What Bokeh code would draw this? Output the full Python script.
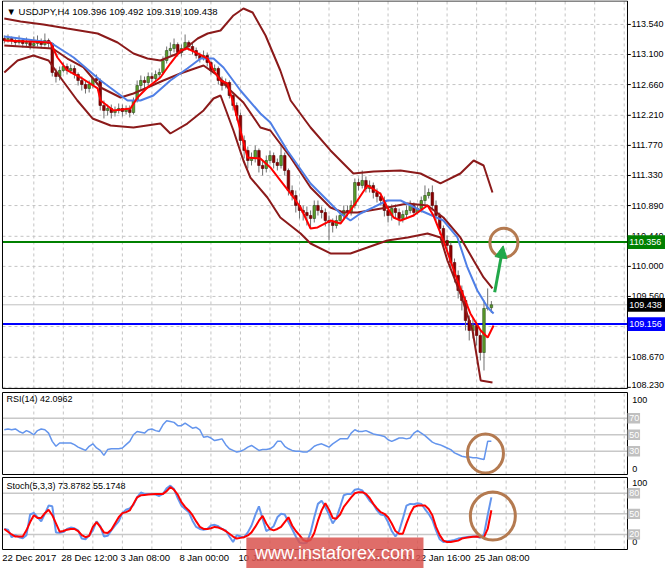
from bokeh.plotting import figure
from bokeh.layouts import column
from bokeh.models import Range1d, Arrow, NormalHead
from bokeh.core.properties import value
from bokeh.embed import file_html
from bokeh.resources import INLINE

# ---------------- data ----------------
chart_title = "\u25BC USDJPY,H4  109.396 109.492 109.319 109.438"
rsi_title = "RSI(14) 42.0962"
stoch_title = "Stoch(5,3,3) 73.8782 55.1748"

opens = [113.334, 113.305, 113.334, 113.305, 113.276, 113.305, 113.261, 113.276, 113.232, 113.261,
         113.276, 113.246, 113.305, 113.261, 112.837, 112.778, 112.866, 112.924, 112.866, 112.895,
         112.807, 112.720, 112.661, 112.603, 112.661, 112.749, 112.720, 112.354, 112.281, 112.310,
         112.251, 112.281, 112.310, 112.266, 112.295, 112.251, 112.427, 112.646, 112.720, 112.690,
         112.778, 112.749, 112.807, 112.837, 113.012, 113.158, 113.188, 113.246, 113.129, 113.188,
         113.276, 113.217, 113.158, 113.085, 113.041, 113.085, 112.983, 112.866, 112.895, 112.720,
         112.646, 112.690, 112.500, 112.354, 112.207, 111.842, 111.696, 111.549, 111.578, 111.696,
         111.476, 111.432, 111.549, 111.622, 111.520, 111.476, 111.622, 111.403, 111.110, 111.037,
         110.891, 110.818, 110.788, 110.744, 110.701, 110.891, 110.818, 110.788, 110.671, 110.642,
         110.598, 110.671, 110.744, 110.818, 110.788, 110.891, 111.227, 111.184, 111.257, 111.140,
         111.184, 111.081, 111.022, 110.964, 110.818, 110.744, 110.847, 110.788, 110.701, 110.759,
         110.818, 110.891, 110.788, 110.847, 110.964, 111.037, 111.081, 110.891, 110.744, 110.554,
         110.379, 110.306, 110.057, 109.867, 109.647, 109.501, 109.208, 109.062, 109.135, 108.989,
         108.740, 109.384, 109.396]
highs = [113.378, 113.393, 113.363, 113.349, 113.378, 113.334, 113.349, 113.305, 113.363, 113.378,
         113.334, 113.407, 113.334, 113.276, 112.895, 112.924, 112.983, 112.968, 112.954, 112.939,
         112.837, 112.778, 112.720, 112.720, 112.778, 112.807, 112.749, 112.427, 112.368, 112.368,
         112.339, 112.383, 112.368, 112.354, 112.354, 112.471, 112.720, 112.793, 112.778, 112.837,
         112.837, 112.866, 112.895, 113.071, 113.217, 113.276, 113.334, 113.276, 113.246, 113.393,
         113.305, 113.276, 113.202, 113.129, 113.158, 113.129, 113.012, 112.954, 112.924, 112.778,
         112.749, 112.720, 112.544, 112.398, 112.251, 111.915, 111.754, 111.666, 111.769, 111.725,
         111.549, 111.622, 111.696, 111.666, 111.578, 111.769, 111.666, 111.432, 111.184, 111.110,
         110.964, 110.891, 110.876, 110.818, 110.964, 110.964, 110.876, 110.847, 110.744, 110.701,
         110.744, 110.818, 110.891, 110.891, 110.964, 111.286, 111.286, 111.403, 111.315, 111.257,
         111.227, 111.140, 111.081, 111.022, 110.891, 110.906, 110.906, 110.847, 110.818, 110.891,
         110.964, 110.935, 110.906, 111.022, 111.184, 111.140, 111.184, 110.964, 110.788, 110.598,
         110.452, 110.350, 110.115, 109.940, 109.720, 109.560, 109.282, 109.237, 109.179, 109.062,
         109.501, 109.677, 109.492]
lows = [113.261, 113.276, 113.246, 113.217, 113.246, 113.202, 113.217, 113.173, 113.188, 113.217,
        113.188, 113.217, 113.202, 112.778, 112.690, 112.720, 112.837, 112.807, 112.822, 112.749,
        112.646, 112.573, 112.529, 112.544, 112.603, 112.661, 112.281, 112.164, 112.207, 112.164,
        112.193, 112.237, 112.193, 112.222, 112.178, 112.222, 112.398, 112.573, 112.603, 112.632,
        112.690, 112.690, 112.749, 112.807, 112.968, 113.085, 113.129, 113.071, 113.071, 113.158,
        113.158, 113.100, 113.041, 112.983, 113.012, 112.924, 112.807, 112.837, 112.661, 112.573,
        112.603, 112.456, 112.281, 112.134, 111.769, 111.578, 111.432, 111.476, 111.520, 111.374,
        111.330, 111.374, 111.505, 111.432, 111.403, 111.432, 111.330, 111.037, 110.964, 110.788,
        110.701, 110.671, 110.598, 110.554, 110.642, 110.744, 110.701, 110.584, 110.379, 110.496,
        110.554, 110.642, 110.701, 110.730, 110.744, 110.847, 111.110, 111.140, 111.081, 111.081,
        110.993, 110.935, 110.891, 110.730, 110.642, 110.671, 110.701, 110.598, 110.642, 110.701,
        110.774, 110.730, 110.759, 110.788, 110.906, 110.993, 110.818, 110.671, 110.467, 110.291,
        110.203, 109.969, 109.764, 109.530, 109.355, 109.062, 108.916, 108.945, 108.843, 108.623,
        108.477, 109.355, 109.319]
closes = [113.305, 113.334, 113.305, 113.276, 113.305, 113.261, 113.276, 113.232, 113.261, 113.276,
          113.246, 113.305, 113.261, 112.837, 112.778, 112.866, 112.924, 112.866, 112.895, 112.807,
          112.720, 112.661, 112.603, 112.661, 112.749, 112.720, 112.354, 112.281, 112.310, 112.251,
          112.281, 112.310, 112.266, 112.295, 112.251, 112.427, 112.646, 112.720, 112.690, 112.778,
          112.749, 112.807, 112.837, 113.012, 113.158, 113.188, 113.246, 113.129, 113.188, 113.276,
          113.217, 113.158, 113.085, 113.041, 113.085, 112.983, 112.866, 112.895, 112.720, 112.646,
          112.690, 112.500, 112.354, 112.207, 111.842, 111.696, 111.549, 111.578, 111.696, 111.476,
          111.432, 111.549, 111.622, 111.520, 111.476, 111.622, 111.403, 111.110, 111.037, 110.891,
          110.818, 110.788, 110.744, 110.701, 110.891, 110.818, 110.788, 110.671, 110.642, 110.598,
          110.671, 110.744, 110.818, 110.788, 110.891, 111.227, 111.184, 111.257, 111.140, 111.184,
          111.081, 111.022, 110.964, 110.818, 110.744, 110.847, 110.788, 110.701, 110.759, 110.818,
          110.891, 110.788, 110.847, 110.964, 111.037, 111.081, 110.891, 110.744, 110.554, 110.379,
          110.306, 110.057, 109.867, 109.647, 109.501, 109.208, 109.062, 109.135, 108.989, 108.740,
          109.384, 109.396, 109.438]

# indicator lines on the price chart, read at points along each line (x in bars)
upper_x = [0, 4.4, 10.6, 17.1, 25.3, 30.7, 35.0, 38.8, 42.3, 47.7, 52.4, 55.1, 58.6, 62.1, 64.8,
           67.3, 70.8, 74.8, 77.6, 83.0, 88.4, 91.9, 94.6, 100.1, 107.4, 112.8, 118.2, 123.6,
           127.2, 129.9, 132.3]
upper_y = [113.627, 113.583, 113.539, 113.480, 113.407, 113.276, 113.115, 113.041, 113.012, 113.129,
           113.334, 113.407, 113.451, 113.671, 113.773, 113.714, 113.378, 112.866, 112.427, 112.032,
           111.696, 111.505, 111.359, 111.388, 111.403, 111.359, 111.213, 111.359, 111.549, 111.476,
           111.081]
middle_x = [0, 13.1, 17.1, 21.5, 26.1, 31.5, 35.0, 38.8, 43.1, 47.7, 52.4, 54.0, 57.8, 61.3, 64.8,
            69.4, 72.1, 77.6, 83.0, 88.4, 91.9, 95.7, 103.8, 109.3, 114.7, 119.0, 123.6, 127.2,
            129.9, 132.3]
middle_y = [113.232, 113.188, 113.041, 112.910, 112.617, 112.471, 112.529, 112.617, 112.720, 112.822,
            112.910, 112.939, 112.793, 112.573, 112.398, 112.032, 111.988, 111.593, 111.154, 110.862,
            110.788, 110.788, 110.862, 110.920, 110.891, 110.715, 110.423, 110.086, 109.838, 109.677]
lower_x = [0, 3.6, 7.9, 12.0, 15.8, 19.8, 23.9, 28.8, 35.0, 42.3, 45.0, 49.6, 54.0, 56.7, 58.6,
           62.1, 64.8, 66.7, 71.3, 74.8, 80.3, 83.0, 88.4, 93.8, 98.4, 103.8, 109.3, 114.7, 118.2,
           120.1, 123.6, 126.9, 129.1, 132.3]
lower_y = [112.837, 113.012, 113.085, 113.012, 112.720, 112.427, 112.164, 112.061, 112.032, 112.090,
           111.944, 112.090, 112.281, 112.456, 112.500, 111.988, 111.549, 111.300, 111.008, 110.715,
           110.481, 110.335, 110.189, 110.189, 110.276, 110.379, 110.423, 110.481, 110.423, 110.086,
           109.603, 109.062, 108.331, 108.301]
slow_x = [0, 12.5, 18.8, 26.1, 33.4, 36.9, 40.4, 45.0, 49.6, 53.2, 56.7, 59.4, 64.0, 69.4, 72.1,
          76.7, 83.0, 91.1, 93.8, 96.5, 100.0, 103.8, 107.4, 112.8, 119.0, 122.8, 125.5, 128.2,
          131.0, 132.6]
slow_y = [113.363, 113.276, 113.056, 112.720, 112.427, 112.427, 112.500, 112.720, 112.895, 113.041,
          113.041, 112.910, 112.573, 112.237, 112.105, 111.696, 111.213, 110.774, 110.671, 110.774,
          110.862, 110.964, 110.964, 110.818, 110.671, 110.423, 109.984, 109.647, 109.398, 109.311]
fast_x = [0, 12.5, 14.4, 17.1, 20.7, 25.3, 26.1, 29.6, 34.2, 36.1, 38.8, 42.3, 45.0, 47.7, 49.6,
          52.4, 55.1, 56.7, 58.6, 60.5, 62.1, 64.0, 65.9, 69.4, 72.1, 74.8, 77.6, 80.3, 83.0, 84.9,
          88.4, 91.1, 93.8, 95.7, 98.4, 101.9, 103.8, 105.5, 107.4, 110.9, 114.7, 116.3, 119.0,
          122.8, 126.3, 129.1, 131.0, 132.6]
fast_y = [113.305, 113.276, 113.056, 112.866, 112.763, 112.603, 112.427, 112.281, 112.310, 112.471,
          112.617, 112.763, 112.968, 113.158, 113.188, 113.115, 113.041, 112.866, 112.720, 112.676,
          112.383, 111.988, 111.593, 111.578, 111.447, 111.257, 111.066, 110.862, 110.554, 110.569,
          110.671, 110.627, 110.818, 110.964, 111.184, 111.066, 110.862, 110.715, 110.671, 110.744,
          110.891, 110.744, 110.379, 109.794, 109.311, 109.062, 108.960, 109.135]

rsi_vals = [56, 57, 56, 57, 54, 52, 55, 53, 50, 55,
            57, 56, 52, 42, 36, 40, 40, 40, 40, 38,
            35, 33, 31, 36, 39, 34, 31, 25, 32, 33,
            33, 33, 34, 38, 42, 50, 54, 53, 52, 56,
            57, 55, 54, 62, 67, 66, 65, 61, 61, 64,
            61, 58, 59, 56, 47, 48, 46, 43, 44, 45,
            38, 33, 31, 29, 30, 32, 35, 37, 34, 31,
            32, 32, 33, 36, 42, 42, 36, 33, 31, 30,
            30, 29, 29, 32, 36, 38, 39, 37, 35, 39,
            42, 45, 45, 45, 52, 56, 54, 54, 55, 53,
            51, 50, 49, 48, 44, 42, 44, 46, 46, 45,
            46, 52, 55, 52, 49, 45, 41, 39, 38, 36,
            34, 32, 28, 26, 24, 23, 23, 22, 22, 21,
            20, 42, 42.1]
stoch_k = [28, 27, 16, 19, 16, 14.5, 19, 49, 51.5, 45,
           39, 50, 62, 61, 23, 22.5, 23.4, 28, 30, 29,
           26, 14, 13, 18.6, 26, 39, 32, 17, 18, 26,
           33, 39, 51, 56, 58, 63, 74, 81, 79, 79,
           79, 78, 76, 79, 87, 91, 86, 73, 62, 57,
           52.5, 40, 31, 28, 27, 28, 33, 34, 32, 28,
           26, 17, 9, 19, 17, 16, 23, 33, 48, 61,
           43, 25, 28, 32, 45, 50, 49, 38, 28, 17,
           8, 7, 8, 23, 45, 64.5, 69, 60, 49, 36,
           44, 60, 77, 79, 79, 85, 86, 84, 77, 69,
           64, 55, 49, 48, 38, 25, 17, 25, 43, 62,
           64.5, 64, 65.5, 64.5, 57, 50, 41, 26, 13, 9,
           10, 11, 12, 14, 15, 16, 16.6, 17, 17, 15,
           20, 48, 73.9]
stoch_d = [28, 24, 20, 17, 17, 17, 26, 38, 48, 44,
           44, 51, 56, 48, 36, 24, 25, 27, 28, 28,
           25, 19, 16, 18, 31, 38, 31, 23, 22, 27,
           36, 45, 51, 52.5, 55, 64.5, 74, 77, 77.5, 78,
           78.5, 79, 79, 79, 83, 89, 85, 78, 67, 60,
           55, 48, 39, 31, 28, 28, 29, 31, 30, 28,
           25, 21, 17, 14, 15, 16, 18.6, 23, 31, 40,
           47, 36, 28, 26, 28, 31, 38, 45, 33, 25,
           19, 12, 10, 12, 22, 40, 55, 65.5, 56, 44,
           43, 49, 60, 67, 74, 80, 81.6, 81.6, 79, 73,
           64.5, 58, 52.5, 50, 45, 36, 25, 21, 21, 36,
           50, 60, 62, 62, 62, 57, 48, 31, 19, 11,
           9, 9, 10, 11, 14, 15, 16, 16.6, 17, 16.6,
           16, 28, 55.2]

price_ticks = [108.23, 108.67, 109.12, 109.56, 110.00, 110.44, 110.89,
               111.33, 111.77, 112.21, 112.66, 113.10, 113.54]
time_label_bars = [0, 16, 32, 48, 64, 80, 96, 112, 128]
time_labels = ["22 Dec 2017", "28 Dec 12:00", "3 Jan 08:00", "8 Jan 00:00", "10 Jan 16:00",
               "15 Jan 08:00", "18 Jan 00:00", "22 Jan 16:00", "25 Jan 08:00"]
grid_bars = [8, 16, 24, 32, 40, 48, 56, 64, 72, 80, 88, 96, 104, 112, 120, 128,
             136, 144, 152, 160, 168]

support_level = 110.356
resistance_level = 109.156
bid_level = 109.438
rsi_levels = [70, 50, 30]
rsi_scale = [100, 0]
stoch_levels = [80, 50, 20]
stoch_scale = [100, 0]

# ---------------- style / geometry ----------------
FONT = "Liberation Sans"
GRID_C = "#c4c4c4"
BAND_C = "#8b1a1a"
SLOW_C = "#4f7fe6"
FAST_C = "#ff0000"
IND_C = "#6495ed"
LEVEL_C = "#c8c8c8"
CIRC_C = "#b47a50"
ARROW_C = "#22a84a"
BULL_C = "#5a9e2a"
BEAR_C = "#8b0000"
WICK_C = "#707070"

W = 665
XR_ALL = Range1d(-1.03, 179.19)      # whole picture width in bar units
XL, XRB = -0.49, 168.89              # left / right border of the plotting area
TICK_X = XRB + 0.9                   # end of tick marks
LAB_X = 170.0                        # start of scale labels
BOX_R = 179.19

MAIN_TOP, MAIN_BOT = 113.883, 108.214
RSI_TOP, RSI_BOT = 101.2, 1.8
ST_TOP, ST_BOT = 102.9, -1.9


def make_fig(h, yr):
    p = figure(width=W, height=h, x_range=XR_ALL, y_range=yr, output_backend="svg",
               toolbar_location=None, x_axis_location=None, y_axis_location=None,
               min_border=0, min_border_left=0, min_border_right=0, min_border_top=0,
               min_border_bottom=0, outline_line_color=None,
               background_fill_color="white", border_fill_color="white")
    p.xgrid.visible = False
    p.ygrid.visible = False
    return p


def frame(p, top, bot):
    p.segment(x0=grid_bars, x1=grid_bars, y0=[bot] * len(grid_bars), y1=[top] * len(grid_bars),
              line_color=GRID_C, line_dash="3 3", line_width=1)


def border(p, top, bot):
    p.multi_line(xs=[[XL, XRB, XRB, XL, XL]], ys=[[top, top, bot, bot, top]],
                 line_color="black", line_width=1)


def text(p, xs, ys, labels, size="9px", color="black", align="left", xoff=0, yoff=0):
    p.text(x=xs, y=ys, text=labels, text_font=value(FONT), text_font_size=value(size),
           text_color=color, text_align=align, text_baseline="middle", x_offset=xoff,
           y_offset=yoff)


def boxed(p, ys, labels, fill, half_h, right):
    p.quad(left=[XRB] * len(ys), right=[right] * len(ys),
           bottom=[y - half_h for y in ys], top=[y + half_h for y in ys],
           fill_color=fill, line_color=None)
    text(p, [XRB + 0.5] * len(ys), ys, labels, color="white")


# ---------------- main price panel ----------------
main = make_fig(390, Range1d(108.184, 113.89))
frame(main, MAIN_TOP, MAIN_BOT)
main.segment(x0=[XL] * len(price_ticks), x1=[XRB] * len(price_ticks), y0=price_ticks,
             y1=price_ticks, line_color=GRID_C, line_dash="3 3", line_width=1)

main.segment(x0=[XL], x1=[XRB], y0=[bid_level], y1=[bid_level], line_color="#c0c0c0", line_width=1)
main.segment(x0=[XL], x1=[XRB], y0=[support_level], y1=[support_level],
             line_color="#008000", line_width=2)
main.segment(x0=[XL], x1=[XRB], y0=[resistance_level], y1=[resistance_level],
             line_color="#0000ff", line_width=2)

bars = list(range(len(closes)))
main.segment(x0=bars, y0=lows, x1=bars, y1=highs, line_color=WICK_C, line_width=1)
bull = [i for i in bars if closes[i] >= opens[i]]
bear = [i for i in bars if closes[i] < opens[i]]
main.vbar(x=bull, width=0.7, top=[closes[i] for i in bull], bottom=[opens[i] for i in bull],
          fill_color=BULL_C, line_color="#2e4a1e", line_width=0.6)
main.vbar(x=bear, width=0.7, top=[opens[i] for i in bear], bottom=[closes[i] for i in bear],
          fill_color=BEAR_C, line_color="#5a0000", line_width=0.6)

main.line(upper_x, upper_y, line_color=BAND_C, line_width=2)
main.line(middle_x, middle_y, line_color=BAND_C, line_width=2)
main.line(lower_x, lower_y, line_color=BAND_C, line_width=2)
main.line(slow_x, slow_y, line_color=SLOW_C, line_width=2)
main.line(fast_x, fast_y, line_color=FAST_C, line_width=2)

main.ellipse(x=[135.4], y=[110.345], width=28, height=29, width_units="screen",
             height_units="screen", fill_alpha=0, line_color=CIRC_C, line_width=3)
main.add_layout(Arrow(end=NormalHead(size=12, fill_color=ARROW_C, line_color=ARROW_C),
                      x_start=132.9, y_start=109.62, x_end=135.2, y_end=110.30,
                      line_color=ARROW_C, line_width=3))

border(main, MAIN_TOP, MAIN_BOT)
# price scale
main.segment(x0=[XRB] * len(price_ticks), x1=[TICK_X] * len(price_ticks), y0=price_ticks,
             y1=price_ticks, line_color="black", line_width=1)
text(main, [LAB_X] * (len(price_ticks) - 1), price_ticks[1:],
     ["%.3f" % v for v in price_ticks[1:]])
text(main, [LAB_X], price_ticks[:1], ["%.3f" % price_ticks[0]], yoff=-2)
boxed(main, [support_level], ["%.3f" % support_level], "#008000", 0.1, BOX_R)
boxed(main, [bid_level], ["%.3f" % bid_level], "#000000", 0.1, BOX_R)
boxed(main, [resistance_level], ["%.3f" % resistance_level], "#0000ff", 0.1, BOX_R)
text(main, [0.6], [113.73], [chart_title], size="9.5px")

# ---------------- RSI panel ----------------
rsi = make_fig(85, Range1d(0.6, 103.64))
frame(rsi, RSI_TOP, RSI_BOT)
rsi.segment(x0=[XL] * 3, x1=[XRB] * 3, y0=rsi_levels, y1=rsi_levels,
            line_color=LEVEL_C, line_width=1.5)
rsi.line(bars, rsi_vals, line_color=IND_C, line_width=1.5)
rsi.ellipse(x=[130.4], y=[27.3], width=36, height=39, width_units="screen",
            height_units="screen", fill_alpha=0, line_color=CIRC_C, line_width=3)
border(rsi, RSI_TOP, RSI_BOT)
text(rsi, [0.6], [93.0], [rsi_title], size="9px")
text(rsi, [LAB_X + 0.2] * 2, [92.7, 7.9], [str(v) for v in rsi_scale])
boxed(rsi, rsi_levels, [str(v) for v in rsi_levels], "#c0c0c0", 6.5, 172.3)

# ---------------- Stochastic panel ----------------
st = make_fig(93, Range1d(-29.55, 105.8))
frame(st, ST_TOP, ST_BOT)
st.segment(x0=[XL] * 3, x1=[XRB] * 3, y0=stoch_levels, y1=stoch_levels,
           line_color=LEVEL_C, line_width=1.5)
st.line(bars, stoch_k, line_color=IND_C, line_width=2)
st.line(bars, stoch_d, line_color=FAST_C, line_width=2)
st.ellipse(x=[132.4], y=[46.9], width=45, height=48, width_units="screen",
           height_units="screen", fill_alpha=0, line_color=CIRC_C, line_width=3)
border(st, ST_TOP, ST_BOT)
text(st, [0.6], [90.5], [stoch_title], size="9px")
text(st, [LAB_X + 0.2] * 2, [94.2, 8.3], [str(v) for v in stoch_scale])
boxed(st, stoch_levels, [str(v) for v in stoch_levels], "#c0c0c0", 7.5, 172.3)

# time scale
text(st, time_label_bars, [-13.5] * len(time_label_bars), time_labels, size="9.5px", xoff=-2)

# watermark
st.quad(left=[65.6], right=[113.6], bottom=[-29.55], top=[15.6],
        fill_color="#d9534f", fill_alpha=0.85, line_color=None)
text(st, [89.6], [-7.0], ["www.instaforex.com"], size="18px", color="white", align="center")

layout = column(main, rsi, st, spacing=0)
open("out.html", "w").write(file_html(layout, INLINE))
